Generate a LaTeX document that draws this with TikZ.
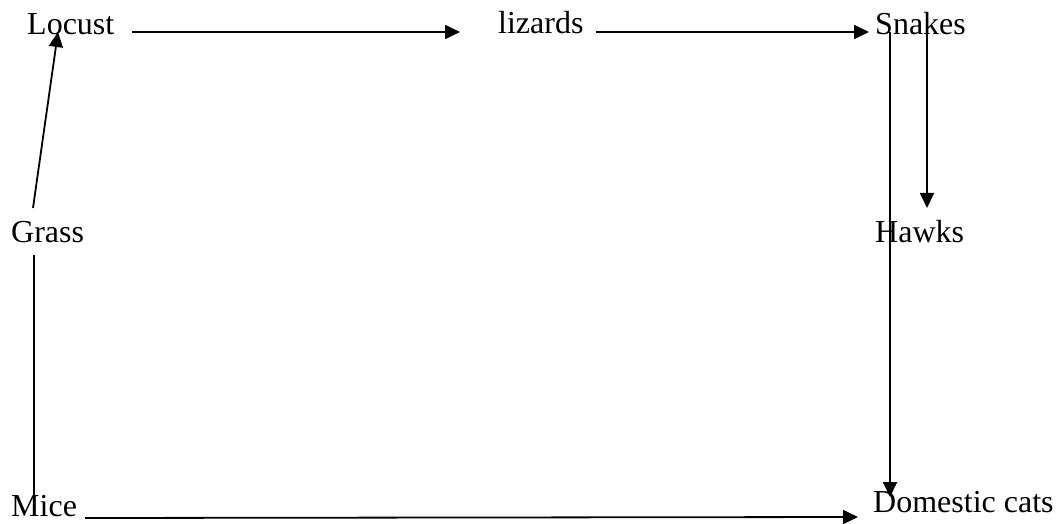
\documentclass[tikz,border=0pt]{standalone}
\usepackage{fontspec}
\setmainfont{Liberation Serif}
\usetikzlibrary{arrows.meta}
\begin{document}
\begin{tikzpicture}[x=1pt,y=-1pt,
  lbl/.style={inner sep=0pt,anchor=base west,font=\fontsize{32}{38}\selectfont},
  link/.style={line width=1.8pt},
  arr/.style={link,-{Triangle[length=15pt,width=14pt]}}]
\useasboundingbox (0,0) rectangle (1058,524);
\node[lbl] (locust) at (27,35) {Locust};
\node[lbl] (lizards) at (498,34) {lizards};
\node[lbl] (snakes) at (875,35) {Snakes};
\node[lbl] (hawks) at (875,242) {Hawks};
\node[lbl] (grass) at (11,242) {Grass};
\node[lbl] (mice) at (11,516) {Mice};
\node[lbl] (cats) at (873,512) {Domestic cats};
\draw[arr] ([shift={(18,-3)}]locust.base east) -- ([shift={(-38,-2)}]lizards.base west);
\draw[arr] ([shift={(12,-2)}]lizards.base east) -- ([shift={(-6,-3)}]snakes.base west);
\draw[arr] ([shift={(52,-8)}]snakes.base west) -- ([shift={(52,-34)}]hawks.base west);
\draw[arr] ([shift={(15,-3)}]snakes.base west) -- ([shift={(17,-15)}]cats.base west);
\draw[arr] ([shift={(8,2)}]mice.base east) -- ([shift={(-15,5)}]cats.base west);
\draw[link] ([shift={(23,-18)}]mice.base west) -- ([shift={(23,13)}]grass.base west);
\draw[arr] ([shift={(22,-34)}]grass.base west) -- ([shift={(31,-3)}]locust.base west);
\end{tikzpicture}
\end{document}
